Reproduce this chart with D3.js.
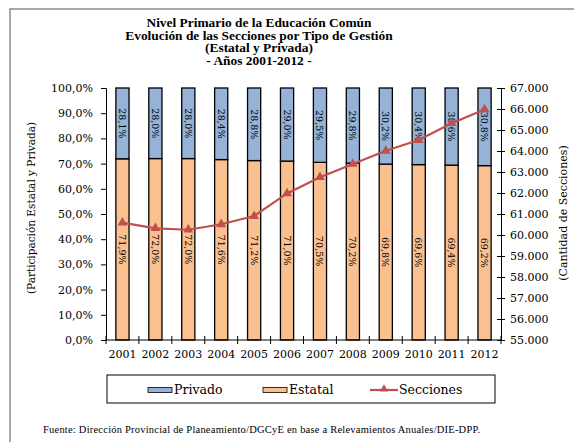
<!DOCTYPE html>
<html>
<head>
<meta charset="utf-8">
<script src="https://d3js.org/d3.v7.min.js"></script>
<style>
  body { margin: 0; background: #fff; }
  text { font-family: "DejaVu Serif", serif; fill: #000; }
</style>
</head>
<body>
<script>
    // Data
    var years = ["2001","2002","2003","2004","2005","2006","2007","2008","2009","2010","2011","2012"];
    var estatal = [71.9, 72.0, 72.0, 71.6, 71.2, 71.0, 70.5, 70.2, 69.8, 69.6, 69.4, 69.2];
    var privado = [28.1, 28.0, 28.0, 28.4, 28.8, 29.0, 29.5, 29.8, 30.2, 30.4, 30.6, 30.8];
    var secciones = [60590, 60320, 60250, 60510, 60900, 61980, 62750, 63380, 64010, 64520, 65320, 65980];
    var titleLines = ["Nivel Primario de la Educación Común",
                      "Evolución de las Secciones por Tipo de Gestión",
                      "(Estatal y Privada)",
                      "- Años 2001-2012 -"];
    var legendLabels = ["Privado", "Estatal", "Secciones"];

    var W = 574, H = 442;
    var pl = 106, pr = 501, pt = 88, pb = 340;

    var colPriv = "#95b3d7", colEst = "#fac090", colLine = "#c0504d";

    var loc = d3.formatLocale({decimal: ",", thousands: ".", grouping: [3], currency: ["$", ""]});
    var fmtPct = loc.format(".1f");
    var fmtNum = loc.format(",d");

    var svg = d3.select("body").append("svg")
        .attr("width", W)
        .attr("height", H);

    // outer frame (right and bottom edges fall outside the picture)
    svg.append("rect")
        .attr("x", 10).attr("y", 9)
        .attr("width", W + 20).attr("height", H + 20)
        .attr("fill", "none")
        .attr("stroke", "#8c8c8c")
        .attr("stroke-width", 1.5);

    // scales
    var x = d3.scaleBand().domain(years).range([pl, pr]).paddingInner(0.6).paddingOuter(0.3);
    var y = d3.scaleLinear().domain([0, 100]).range([pb, pt]);
    var y2 = d3.scaleLinear().domain([55000, 67000]).range([pb, pt]);

    // title
    svg.append("g").selectAll("text")
        .data(titleLines)
        .enter().append("text")
        .attr("x", 259)
        .attr("y", function(d, i) { return 27 + i * 12.5; })
        .attr("text-anchor", "middle")
        .style("font-family", "'Liberation Serif', serif")
        .style("font-size", "13.4px")
        .style("font-weight", "bold")
        .text(function(d) { return d; });

    // stacked bars
    var bars = svg.append("g");
    years.forEach(function(yr, i) {
        bars.append("rect")
            .attr("x", x(yr)).attr("width", x.bandwidth())
            .attr("y", y(estatal[i])).attr("height", y(0) - y(estatal[i]))
            .attr("fill", colEst).attr("stroke", "#000").attr("stroke-width", 1.3);
        bars.append("rect")
            .attr("x", x(yr)).attr("width", x.bandwidth())
            .attr("y", y(100)).attr("height", y(estatal[i]) - y(100))
            .attr("fill", colPriv).attr("stroke", "#000").attr("stroke-width", 1.3);

        var cx = x(yr) + x.bandwidth() / 2;
        var yEst = (y(0) + y(estatal[i])) / 2;
        var yPriv = (y(estatal[i]) + y(100)) / 2;
        bars.append("text")
            .attr("transform", "translate(" + (cx - 3.5) + "," + yEst + ") rotate(90)")
            .attr("text-anchor", "middle")
            .style("font-size", "9.5px")
            .text(fmtPct(estatal[i]) + "%");
        bars.append("text")
            .attr("transform", "translate(" + (cx - 3.5) + "," + yPriv + ") rotate(90)")
            .attr("text-anchor", "middle")
            .style("font-size", "9.5px")
            .text(fmtPct(privado[i]) + "%");
    });

    // left axis
    var gl = svg.append("g")
        .attr("transform", "translate(" + pl + ",0)")
        .call(d3.axisLeft(y).tickValues(d3.range(0, 101, 10)).tickSize(5).tickPadding(8)
            .tickFormat(function(d) { return fmtPct(d) + "%"; }));
    gl.selectAll("text").style("font-size", "11px").style("font-family", "DejaVu Serif");

    // right axis
    var gr = svg.append("g")
        .attr("transform", "translate(" + pr + ",0)")
        .call(d3.axisRight(y2).tickValues(d3.range(55000, 67001, 1000)).tickSize(0).tickPadding(9)
            .tickFormat(fmtNum));
    gr.selectAll(".tick").append("line").attr("x1", -4).attr("x2", 4).attr("stroke", "#000");
    gr.selectAll("text").style("font-size", "11px").style("font-family", "DejaVu Serif");

    // bottom axis
    var gb = svg.append("g")
        .attr("transform", "translate(0," + pb + ")");
    gb.append("line").attr("x1", pl).attr("x2", pr).attr("stroke", "#000");
    gb.selectAll(".tk")
        .data(d3.range(years.length + 1))
        .enter().append("line")
        .attr("x1", function(i) { return pl + i * x.step(); })
        .attr("x2", function(i) { return pl + i * x.step(); })
        .attr("y1", -4).attr("y2", 4)
        .attr("stroke", "#000");
    gb.selectAll(".yl")
        .data(years)
        .enter().append("text")
        .attr("x", function(d) { return x(d) + x.bandwidth() / 2; })
        .attr("y", 18)
        .attr("text-anchor", "middle")
        .style("font-size", "11px")
        .text(function(d) { return d; });

    // secciones line
    var line = d3.line()
        .x(function(d, i) { return x(years[i]) + x.bandwidth() / 2; })
        .y(function(d) { return y2(d); });
    svg.append("path")
        .datum(secciones)
        .attr("d", line)
        .attr("fill", "none")
        .attr("stroke", colLine)
        .attr("stroke-width", 2.2);
    svg.append("g").selectAll("path")
        .data(secciones)
        .enter().append("path")
        .attr("d", d3.symbol().type(d3.symbolTriangle).size(42))
        .attr("transform", function(d, i) {
            return "translate(" + (x(years[i]) + x.bandwidth() / 2) + "," + y2(d) + ")";
        })
        .attr("fill", colLine);

    // axis titles
    svg.append("text")
        .attr("transform", "translate(35,208) rotate(-90)")
        .attr("text-anchor", "middle")
        .style("font-size", "10.5px")
        .text("(Participación Estatal y Privada)");
    svg.append("text")
        .attr("transform", "translate(567,213) rotate(-90)")
        .attr("text-anchor", "middle")
        .style("font-size", "11px")
        .text("(Cantidad de Secciones)");

    // legend
    var lg = svg.append("g");
    lg.append("rect")
        .attr("x", 107).attr("y", 375).attr("width", 388).attr("height", 28)
        .attr("fill", "#fff").attr("stroke", "#000").attr("stroke-width", 1);
    lg.append("rect").attr("x", 148).attr("y", 387.5).attr("width", 24).attr("height", 5)
        .attr("fill", colPriv).attr("stroke", "#000").attr("stroke-width", 0.8);
    lg.append("rect").attr("x", 263).attr("y", 387.5).attr("width", 24).attr("height", 5)
        .attr("fill", colEst).attr("stroke", "#000").attr("stroke-width", 0.8);
    lg.append("line").attr("x1", 370).attr("x2", 398).attr("y1", 390).attr("y2", 390)
        .attr("stroke", colLine).attr("stroke-width", 2.2);
    lg.append("path").attr("d", d3.symbol().type(d3.symbolTriangle).size(30))
        .attr("transform", "translate(384,389)").attr("fill", colLine);
    lg.selectAll("text")
        .data(legendLabels)
        .enter().append("text")
        .attr("x", function(d, i) { return [174, 289, 399][i]; })
        .attr("y", 394)
        .style("font-family", "DejaVu Serif")
        .style("font-size", "12.5px")
        .text(function(d) { return d; });

    // source note
    svg.append("text")
        .attr("x", 43).attr("y", 433)
        .style("font-family", "'Liberation Serif', serif")
        .style("font-size", "10.5px")
        .attr("textLength", 437)
        .text("Fuente: Dirección Provincial de Planeamiento/DGCyE en base a Relevamientos Anuales/DIE-DPP.");
</script>
</body>
</html>
